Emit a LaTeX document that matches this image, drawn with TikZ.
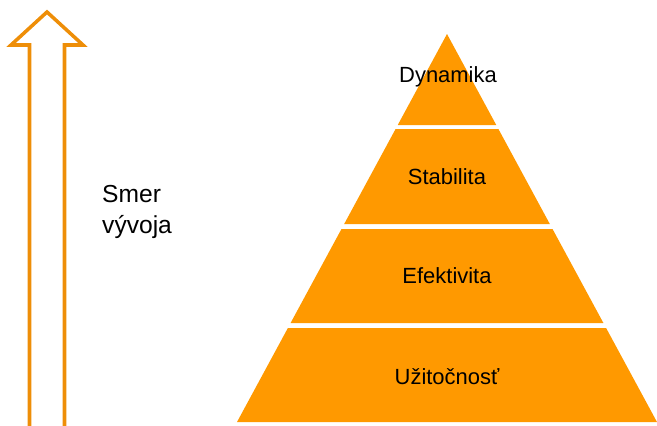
\documentclass[tikz,border=0pt]{standalone}
\usepackage{fontspec}
\setmainfont{Liberation Sans}
\usetikzlibrary{calc}
\definecolor{pyrorange}{HTML}{FF9900}
\definecolor{arroworange}{HTML}{EE8E08}
\def\pyrx#1#2{{447#1(#2-34)*0.5412}}

\begin{document}
\begin{tikzpicture}[x=0.02cm, y=-0.02cm]
		\tikzset{band/.style={fill=pyrorange, draw=none},
			bandlabel/.style={font=\fontsize{12.5}{15}\selectfont, text=black},
			arrowline/.style={draw=arroworange, line width=2pt, line join=miter}}
		\useasboundingbox (0, 0) rectangle (657, 426);
		%%%%% START %%%%%
		% arrow
		\draw[arrowline] (29.5, 440) -- (29.5, 45) -- (11, 45) -- (47, 12) -- (83, 45) -- (64.5, 45) -- (64.5, 440);
		\node[anchor=west, align=left, font=\fontsize{14}{17.6}\selectfont] (smer) at (96, 212) {Smer\\vývoja};
		
		% pyramid
		\fill[band] (447, 34) -- (\pyrx+{125}, 125) -- (\pyrx-{125}, 125) -- cycle;
		\foreach \t/\b in {129/224, 229/323, 328/422}
			\fill[band] (\pyrx-{\t}, \t) -- (\pyrx+{\t}, \t) -- (\pyrx+{\b}, \b) -- (\pyrx-{\b}, \b) -- cycle;
		
		\node[bandlabel] (dynamika) at (448, 77) {Dynamika};
		\node[bandlabel] (stabilita) at (447, 177) {Stabilita};
		\node[bandlabel] (efektivita) at (447, 276) {Efektivita};
		\node[bandlabel] (uzitocnost) at (447, 377) {Užitočnosť};
		%%%%% END %%%%%
	\end{tikzpicture}
\end{document}
